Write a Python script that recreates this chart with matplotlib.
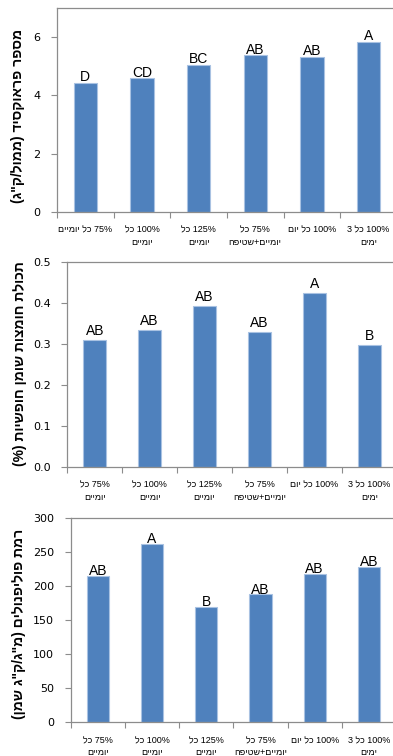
import re
import matplotlib
matplotlib.use("Agg")
import matplotlib.pyplot as plt
from matplotlib.ticker import FixedLocator, NullFormatter

# ---------------- data ----------------
cats1 = ["75% כל יומיים", "100% כל\nיומיים", "125% כל\nיומיים",
         "75% כל\nיומיים+שטיפה", "100% כל יום", "100% כל 3\nימים"]
cats23 = ["75% כל\nיומיים", "100% כל\nיומיים", "125% כל\nיומיים",
          "75% כל\nיומיים+שטיפה", "100% כל יום", "100% כל 3\nימים"]

peroxide = [4.44, 4.59, 5.06, 5.38, 5.32, 5.85]
peroxide_letters = ["D", "CD", "BC", "AB", "AB", "A"]
peroxide_ticks = [0, 2, 4, 6]
peroxide_ticklabels = ["0", "2", "4", "6"]
peroxide_ylabel = 'מספר פראוקסיד (ממול/ק"ג)'

ffa = [0.309, 0.333, 0.392, 0.329, 0.424, 0.298]
ffa_letters = ["AB", "AB", "AB", "AB", "A", "B"]
ffa_ticks = [0.0, 0.1, 0.2, 0.3, 0.4, 0.5]
ffa_ticklabels = ["0.0", "0.1", "0.2", "0.3", "0.4", "0.5"]
ffa_ylabel = "תכולת חומצות שומן חופשיות (%)"

poly = [215, 262, 170, 188, 218, 229]
poly_letters = ["AB", "A", "B", "AB", "AB", "AB"]
poly_ticks = [0, 50, 100, 150, 200, 250, 300]
poly_ticklabels = ["0", "50", "100", "150", "200", "250", "300"]
poly_ylabel = 'רמת פוליפנולים (מ"ג/ק"ג שמן)'


def visual(s):
    """Convert logical-order Hebrew text to visual (left-to-right) order."""
    out = []
    for line in s.split("\n"):
        r = line[::-1]
        r = re.sub(r"[0-9.%]+", lambda m: m.group(0)[::-1], r)
        r = r.translate(str.maketrans("()", ")("))
        out.append(r)
    return "\n".join(out)


W, H = 393, 756
fig = plt.figure(figsize=(W / 100, H / 100), dpi=100)

BAR = "#4f81bd"
EDGE = "#a9c2e2"
SPINE = "#8c8c8c"
HEB = ["Liberation Sans", "DejaVu Sans"]

panels = [
    dict(box=(57, 397, 8, 212), vals=peroxide, letters=peroxide_letters,
         cats=cats1, ticks=peroxide_ticks, tl=peroxide_ticklabels,
         ylim=(0, 7), ylabel=peroxide_ylabel, off=-1.0, ylx=18, yly=116),
    dict(box=(67.3, 396.7, 262, 467), vals=ffa, letters=ffa_letters,
         cats=cats23, ticks=ffa_ticks, tl=ffa_ticklabels,
         ylim=(0, 0.5), ylabel=ffa_ylabel, off=1.5, ylx=20, yly=364),
    dict(box=(70.7, 396, 518.3, 722.3), vals=poly, letters=poly_letters,
         cats=cats23, ticks=poly_ticks, tl=poly_ticklabels,
         ylim=(0, 300), ylabel=poly_ylabel, off=-1.5, ylx=19, yly=624),
]

for p in panels:
    l, r, t, b = p["box"]
    ax = fig.add_axes([l / W, 1 - b / H, (r - l) / W, (b - t) / H])
    x = list(range(len(p["vals"])))
    ax.bar(x, p["vals"], width=0.41, color=BAR, edgecolor=EDGE, linewidth=0.8,
           zorder=2)
    for xi, v, lt in zip(x, p["vals"], p["letters"]):
        ax.annotate(lt, (xi, v), xytext=(0, p["off"]), textcoords="offset points",
                    ha="center", va="bottom", fontsize=10, family=HEB,
                    color="black")
    ax.set_xlim(-0.5, len(x) - 0.5)
    ax.set_ylim(*p["ylim"])
    ax.set_yticks(p["ticks"])
    ax.set_yticklabels(p["tl"], fontsize=8, family="DejaVu Sans")
    ax.set_xticks(x)
    ax.set_xticklabels([visual(c) for c in p["cats"]], fontsize=6.5,
                       family=HEB, multialignment="center", linespacing=1.45)
    ax.xaxis.set_minor_locator(FixedLocator([i - 0.5 for i in range(len(x) + 1)]))
    ax.xaxis.set_minor_formatter(NullFormatter())
    ax.tick_params(axis="x", which="major", length=0, pad=10)
    ax.tick_params(axis="x", which="minor", length=4, color=SPINE, width=0.8,
                   direction="out")
    ax.tick_params(axis="y", length=4, color=SPINE, width=0.8, pad=8,
                   direction="out")
    for s in ax.spines.values():
        s.set_color(SPINE)
        s.set_linewidth(0.9)
    ax.set_ylabel(visual(p["ylabel"]), fontsize=10, fontweight="bold",
                  family=HEB)
    ax.yaxis.set_label_coords(p["ylx"] / W, 1 - p["yly"] / H,
                              transform=fig.transFigure)
    ax.yaxis.label.set_va("center")

fig.savefig("out.png", dpi=100)
